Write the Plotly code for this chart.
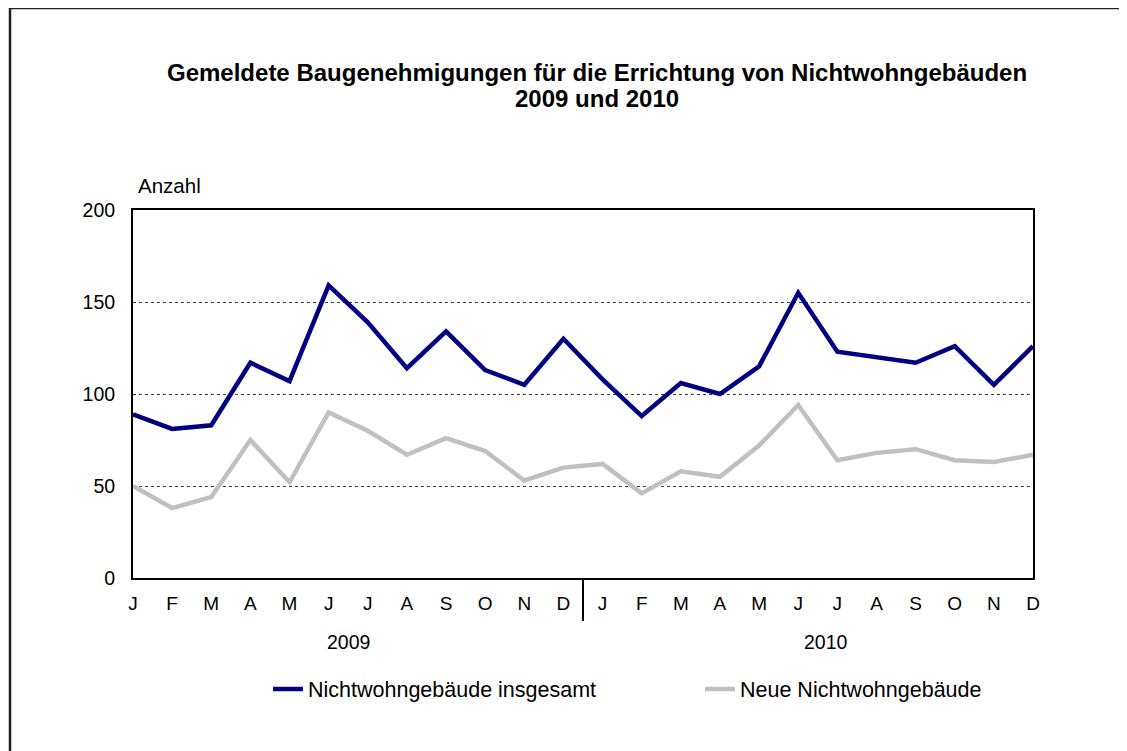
import plotly.graph_objects as go

months = ["J", "F", "M", "A", "M", "J", "J", "A", "S", "O", "N", "D"]
tick_labels = months + months
years = ["2009", "2010"]
insgesamt = [89, 81, 83, 117, 107, 159, 139, 114, 134, 113, 105, 130,
             108, 88, 106, 100, 115, 155, 123, 120, 117, 126, 105, 126]
neue = [50, 38, 44, 75, 52, 90, 80, 67, 76, 69, 53, 60,
        62, 46, 58, 55, 72, 94, 64, 68, 70, 64, 63, 67]
series_names = ["Nichtwohngebäude insgesamt", "Neue Nichtwohngebäude"]
title_lines = ["Gemeldete Baugenehmigungen für die Errichtung von Nichtwohngebäuden", "2009 und 2010"]

OFF = 8  # default page body margin
W, H = 1127 - OFF, 751 - OFF
L, R, T, B = 133 - OFF, 1033 - OFF, 210 - OFF, 578 - OFF
FONT = "Liberation Sans, Arial, sans-serif"

def px(x):  # page pixel -> paper x
    return (x - OFF - L) / (R - L)

def py(y):  # page pixel -> paper y
    return (B - (y - OFF)) / (B - T)

idx = list(range(len(insgesamt)))

fig = go.Figure()
fig.add_trace(go.Scatter(x=idx, y=insgesamt, mode="lines", name=series_names[0],
                         line=dict(color="#000080", width=4.5), legend="legend"))
fig.add_trace(go.Scatter(x=idx, y=neue, mode="lines", name=series_names[1],
                         line=dict(color="#c0c0c0", width=4.5), legend="legend2"))

leg_common = dict(orientation="h", yanchor="middle", xanchor="left",
                  font=dict(size=21.5), itemwidth=30, bgcolor="rgba(0,0,0,0)")

fig.update_layout(
    width=W, height=H,
    margin=dict(l=L, r=W - R, t=T, b=H - B, pad=0),
    paper_bgcolor="white", plot_bgcolor="white",
    font=dict(family=FONT, size=19, color="black"),
    showlegend=True,
    legend=dict(x=px(268), y=py(689), **leg_common),
    legend2=dict(x=px(700), y=py(689), **leg_common),
    xaxis=dict(range=[0, len(idx) - 1], tickmode="array", tickvals=idx, ticktext=tick_labels,
               showgrid=False, zeroline=False, showline=True, linecolor="black", linewidth=2,
               mirror=True, ticks="", ticklabelstandoff=7, tickfont=dict(size=19)),
    yaxis=dict(range=[0, 200], tickvals=[0, 50, 100, 150, 200], showgrid=True,
               gridcolor="#404040", griddash="dot", gridwidth=1, zeroline=False,
               showline=True, linecolor="black", linewidth=2, mirror=True, ticks="",
               ticklabelstandoff=12, tickfont=dict(size=19.5)),
    annotations=[
        dict(text="<b>" + title_lines[0] + "</b>", x=px(597), y=py(72), xref="paper", yref="paper",
             showarrow=False, font=dict(size=24), xanchor="center", yanchor="middle"),
        dict(text="<b>" + title_lines[1] + "</b>", x=px(597), y=py(98), xref="paper", yref="paper",
             showarrow=False, font=dict(size=24), xanchor="center", yanchor="middle"),
        dict(text="Anzahl", x=px(136), y=py(186), xref="paper", yref="paper", showarrow=False,
             font=dict(size=20.5), xanchor="left", yanchor="middle"),
        dict(text=years[0], x=5.5, y=py(642), xref="x", yref="paper", showarrow=False,
             font=dict(size=19.5), xanchor="center", yanchor="middle"),
        dict(text=years[1], x=17.7, y=py(642), xref="x", yref="paper", showarrow=False,
             font=dict(size=19.5), xanchor="center", yanchor="middle"),
    ],
    shapes=[
        dict(type="line", xref="x", yref="paper", x0=11.5, x1=11.5, y0=0, y1=py(621),
             line=dict(color="black", width=2)),
        dict(type="line", xref="paper", yref="paper", x0=px(9), x1=px(1135), y0=py(8), y1=py(8),
             line=dict(color="#202020", width=2.5)),
        dict(type="line", xref="paper", yref="paper", x0=px(10), x1=px(10), y0=py(7), y1=py(760),
             line=dict(color="#202020", width=2.5)),
    ],
)

fig.write_html("out.html")
